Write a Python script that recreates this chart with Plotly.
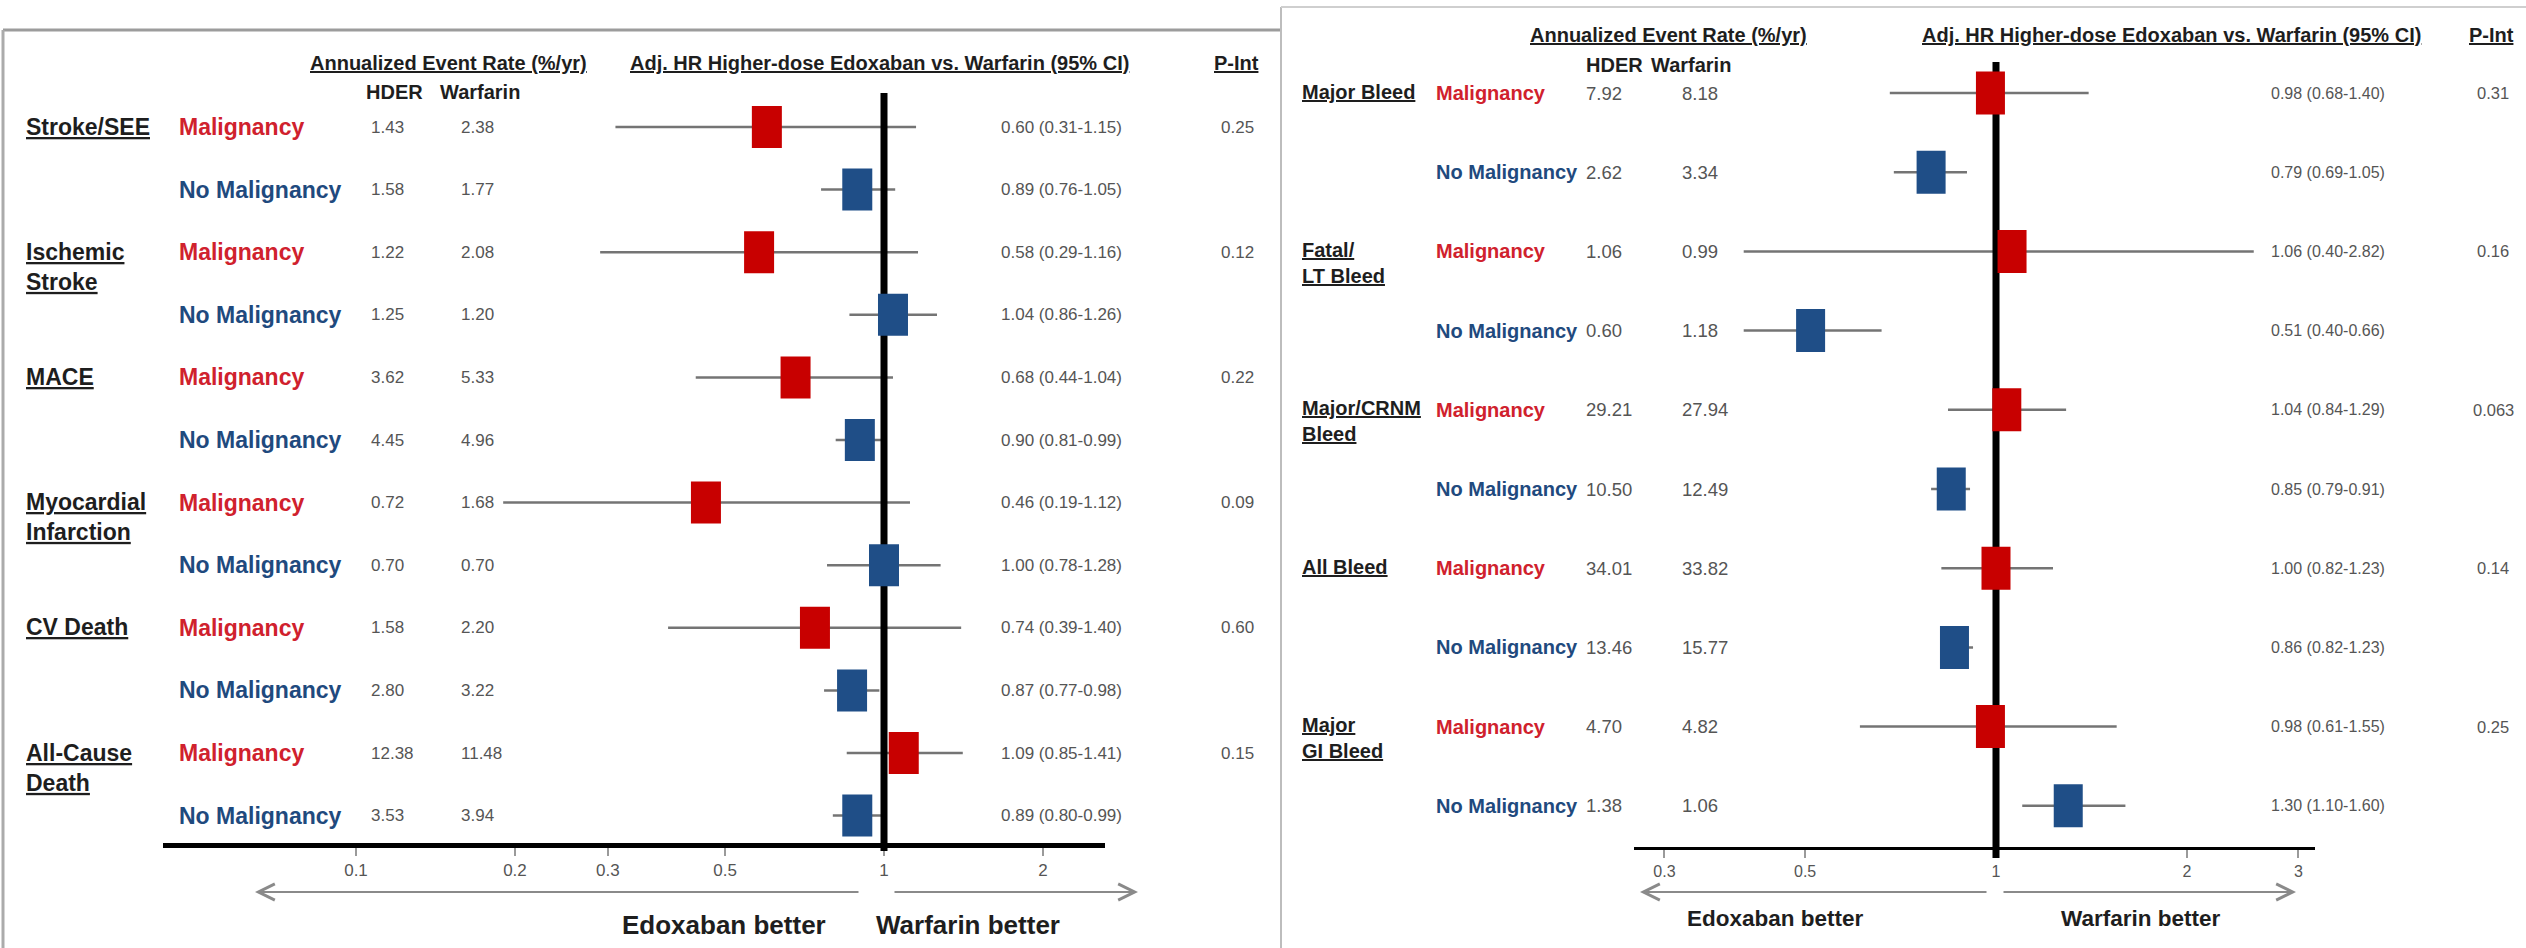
import math
import plotly.graph_objects as go

W, H = 2526, 948

# ---------------- Left panel (efficacy outcomes) ----------------
L_outcomes = ["Stroke/SEE", "Ischemic<br>Stroke", "MACE", "Myocardial<br>Infarction",
              "CV Death", "All-Cause<br>Death"]
subgroups = ["Malignancy", "No Malignancy"]
L_hder = [1.43, 1.58, 1.22, 1.25, 3.62, 4.45, 0.72, 0.70, 1.58, 2.80, 12.38, 3.53]
L_warf = [2.38, 1.77, 2.08, 1.20, 5.33, 4.96, 1.68, 0.70, 2.20, 3.22, 11.48, 3.94]
L_hr = [0.60, 0.89, 0.58, 1.04, 0.68, 0.90, 0.46, 1.00, 0.74, 0.87, 1.09, 0.89]
L_lo = [0.31, 0.76, 0.29, 0.86, 0.44, 0.81, 0.19, 0.78, 0.39, 0.77, 0.85, 0.80]
L_hi = [1.15, 1.05, 1.16, 1.26, 1.04, 0.99, 1.12, 1.28, 1.40, 0.98, 1.41, 0.99]
L_ci_text = ["0.60 (0.31-1.15)", "0.89 (0.76-1.05)", "0.58 (0.29-1.16)", "1.04 (0.86-1.26)",
             "0.68 (0.44-1.04)", "0.90 (0.81-0.99)", "0.46 (0.19-1.12)", "1.00 (0.78-1.28)",
             "0.74 (0.39-1.40)", "0.87 (0.77-0.98)", "1.09 (0.85-1.41)", "0.89 (0.80-0.99)"]
L_pint = ["0.25", "0.12", "0.22", "0.09", "0.60", "0.15"]
L_ticks = [0.1, 0.2, 0.3, 0.5, 1, 2]
L_ticklabels = ["0.1", "0.2", "0.3", "0.5", "1", "2"]

# ---------------- Right panel (bleeding outcomes) ----------------
R_outcomes = ["Major Bleed", "Fatal/<br>LT Bleed", "Major/CRNM<br>Bleed", "All Bleed", "Major<br>GI Bleed"]
R_hder = [7.92, 2.62, 1.06, 0.60, 29.21, 10.50, 34.01, 13.46, 4.70, 1.38]
R_warf = [8.18, 3.34, 0.99, 1.18, 27.94, 12.49, 33.82, 15.77, 4.82, 1.06]
R_hr = [0.98, 0.79, 1.06, 0.51, 1.04, 0.85, 1.00, 0.86, 0.98, 1.30]
R_lo = [0.68, 0.69, 0.40, 0.40, 0.84, 0.79, 0.82, 0.82, 0.61, 1.10]
R_hi = [1.40, 0.90, 2.55, 0.66, 1.29, 0.91, 1.23, 0.92, 1.55, 1.60]
R_ci_text = ["0.98 (0.68-1.40)", "0.79 (0.69-1.05)", "1.06 (0.40-2.82)", "0.51 (0.40-0.66)",
             "1.04 (0.84-1.29)", "0.85 (0.79-0.91)", "1.00 (0.82-1.23)", "0.86 (0.82-1.23)",
             "0.98 (0.61-1.55)", "1.30 (1.10-1.60)"]
R_pint = ["0.31", "0.16", "0.063", "0.14", "0.25"]
R_ticks = [0.3, 0.5, 1, 2, 3]
R_ticklabels = ["0.3", "0.5", "1", "2", "3"]

header_rate = "Annualized Event Rate (%/yr)"
header_hr = "Adj. HR Higher-dose Edoxaban vs. Warfarin (95% CI)"
header_p = "P-Int"
col_hder = "HDER"
col_warf = "Warfarin"
better_left = "Edoxaban better"
better_right = "Warfarin better"

# ---------------- styles ----------------
FONT = "Liberation Sans, Arial, Helvetica, sans-serif"
RED = "#C80000"
BLUE = "#1F4E87"
RED_TXT = "#D0212D"
BLUE_TXT = "#1F4A7E"
DARK = "#1E1E1E"
GREY_TXT = "#555555"
CI_COL = "#747474"

# panel geometry (pixels)
PANELS = {
    "L": dict(ax_x0=163, ax_x1=1105, x_at1=884, px_dec=528, ax_y=845, row0=127, dy=62.6,
              ref_top=93, ref_bot=851, ax_w=5, box_w=30, box_h=42,
              x_out=24, x_sub=177, x_hder=369, x_warf=459, x_ci=999, x_p=1237,
              fs_lab=23, fs_num=17, fs_ci=17, fs_p=17, fs_tick=17, out_line=31,
              hdr_y=63, sub_y=92, x_h_rate=308, x_h_hder=364, x_h_warf=438, x_h_hr=628, x_h_p=1212,
              arrow_y=892, arr_l=(255, 860), arr_r=(893, 1138), better_y=925,
              better_lx=724, better_rx=968, fs_better=26),
    "R": dict(ax_x0=1634, ax_x1=2315, x_at1=1996, px_dec=634, ax_y=848, row0=93, dy=79.2,
              ref_top=62, ref_bot=858, ax_w=3, box_w=29, box_h=43,
              x_out=1300, x_sub=1434, x_hder=1584, x_warf=1680, x_ci=2269, x_p=2493,
              fs_lab=20, fs_num=18.5, fs_ci=16, fs_p=16.5, fs_tick=16, out_line=29,
              hdr_y=35, sub_y=65, x_h_rate=1528, x_h_hder=1584, x_h_warf=1649, x_h_hr=1920, x_h_p=2467,
              arrow_y=892, arr_l=(1640, 1988), arr_r=(2002, 2296), better_y=918,
              better_lx=1775, better_rx=2140, fs_better=22.5),
}


def py(p):
    return 1 - p / H


def px(p):
    return p / W


fig = go.Figure()
annotations = []
shapes = []


def add_text(x, y, text, size, color, xanchor="left", yanchor="middle", yref="paper", yshift=0):
    annotations.append(dict(
        x=px(x), xref="paper", y=(py(y) if yref == "paper" else y), yref=yref,
        text=text, showarrow=False, xanchor=xanchor, yanchor=yanchor, yshift=yshift,
        font=dict(family=FONT, size=size, color=color), align="left"))


def build_panel(key, xname, yname, outcomes, hder, warf, hr, lo, hi, ci_text, pint, ticks, ticklabels):
    g = PANELS[key]
    lo_log = (g["ax_x0"] - g["x_at1"]) / g["px_dec"]
    hi_log = (g["ax_x1"] - g["x_at1"]) / g["px_dec"]
    y_top = (0 - g["row0"]) / g["dy"]
    y_bot = (H - g["row0"]) / g["dy"]
    xref = xname.replace("axis", "")
    yref = yname.replace("axis", "")

    fig.update_layout(**{
        xname: dict(type="log", domain=[px(g["ax_x0"]), px(g["ax_x1"])], range=[lo_log, hi_log],
                    anchor="free", position=py(g["ax_y"]), showline=True, linecolor="black",
                    linewidth=g["ax_w"], ticks="outside", ticklen=8, tickwidth=1.5, tickcolor="#9A9A9A",
                    tickvals=ticks, ticktext=ticklabels,
                    tickfont=dict(family=FONT, size=g["fs_tick"], color=GREY_TXT),
                    showgrid=False, zeroline=False, fixedrange=True),
        yname: dict(domain=[0, 1], range=[y_bot, y_top], visible=False, anchor=xref,
                    showgrid=False, zeroline=False, fixedrange=True),
    })

    rows = list(range(len(hr)))
    # confidence-interval lines
    xs, ys = [], []
    for i in rows:
        xs += [lo[i], hi[i], None]
        ys += [i, i, None]
    fig.add_trace(go.Scatter(x=xs, y=ys, mode="lines", line=dict(color=CI_COL, width=2.5),
                             xaxis=xref, yaxis=yref, hoverinfo="skip", showlegend=False))

    # reference line at HR = 1
    shapes.append(dict(type="line", xref=xref, yref="paper", x0=1, x1=1,
                       y0=py(g["ref_top"]), y1=py(g["ref_bot"]),
                       line=dict(color="black", width=7), layer="above"))
    # point-estimate boxes (fixed pixel size converted into axis units)
    fx = 10 ** ((g["box_w"] / 2) / g["px_dec"])
    hy = (g["box_h"] / 2) / g["dy"]
    for i in rows:
        col = RED if i % 2 == 0 else BLUE
        shapes.append(dict(type="rect", xref=xref, yref=yref,
                           x0=hr[i] / fx, x1=hr[i] * fx, y0=i - hy, y1=i + hy,
                           fillcolor=col, line=dict(width=0), layer="above"))

    # outcome labels
    for k, name in enumerate(outcomes):
        parts = name.split("<br>")
        txt = "<br>".join("<b><u>%s</u></b>" % p for p in parts)
        add_text(g["x_out"], 2 * k, txt, g["fs_lab"], DARK, yanchor="top", yref=yref,
                 yshift=g["out_line"] / 2)
    # subgroup labels and numbers
    for i in rows:
        sg = subgroups[i % 2]
        add_text(g["x_sub"], i, "<b>%s</b>" % sg, g["fs_lab"], RED_TXT if i % 2 == 0 else BLUE_TXT, yref=yref)
        add_text(g["x_hder"], i, "%.2f" % hder[i], g["fs_num"], GREY_TXT, yref=yref)
        add_text(g["x_warf"], i, "%.2f" % warf[i], g["fs_num"], GREY_TXT, yref=yref)
        add_text(g["x_ci"], i, ci_text[i], g["fs_ci"], GREY_TXT, yref=yref)
    for k, p in enumerate(pint):
        add_text(g["x_p"], 2 * k, p, g["fs_p"], GREY_TXT, xanchor="center", yref=yref)

    # headers
    add_text(g["x_h_rate"], g["hdr_y"], "<b><u>%s</u></b>" % header_rate, 20, DARK)
    add_text(g["x_h_hder"], g["sub_y"], "<b>%s</b>" % col_hder, 20, DARK)
    add_text(g["x_h_warf"], g["sub_y"], "<b>%s</b>" % col_warf, 20, DARK)
    add_text(g["x_h_hr"], g["hdr_y"], "<b><u>%s</u></b>" % header_hr, 20, DARK)
    add_text(g["x_h_p"], g["hdr_y"], "<b><u>%s</u></b>" % header_p, 20, DARK)

    # direction arrows
    head, tail = g["arr_l"]
    annotations.append(dict(x=px(head), y=py(g["arrow_y"]), xref="paper", yref="paper", text="",
                            showarrow=True, ax=tail - head, ay=0, arrowhead=5, arrowsize=1.6,
                            arrowwidth=2, arrowcolor="#8A8A8A"))
    tail, head = g["arr_r"]
    annotations.append(dict(x=px(head), y=py(g["arrow_y"]), xref="paper", yref="paper", text="",
                            showarrow=True, ax=tail - head, ay=0, arrowhead=5, arrowsize=1.6,
                            arrowwidth=2, arrowcolor="#8A8A8A"))
    add_text(g["better_lx"], g["better_y"], "<b>%s</b>" % better_left, g["fs_better"], DARK, xanchor="center")
    add_text(g["better_rx"], g["better_y"], "<b>%s</b>" % better_right, g["fs_better"], DARK, xanchor="center")


build_panel("L", "xaxis", "yaxis", L_outcomes, L_hder, L_warf, L_hr, L_lo, L_hi, L_ci_text, L_pint,
            L_ticks, L_ticklabels)
build_panel("R", "xaxis2", "yaxis2", R_outcomes, R_hder, R_warf, R_hr, R_lo, R_hi, R_ci_text, R_pint,
            R_ticks, R_ticklabels)

# panel frames
shapes += [
    dict(type="line", xref="paper", yref="paper", x0=px(3), x1=px(1281), y0=py(30), y1=py(30),
         line=dict(color="#9C9C9C", width=3)),
    dict(type="line", xref="paper", yref="paper", x0=px(3), x1=px(3), y0=py(30), y1=0,
         line=dict(color="#ABABAB", width=3)),
    dict(type="line", xref="paper", yref="paper", x0=px(1281), x1=px(1281), y0=py(7), y1=0,
         line=dict(color="#BDBDBD", width=2)),
    dict(type="line", xref="paper", yref="paper", x0=px(1281), x1=1, y0=py(7), y1=py(7),
         line=dict(color="#CFCFCF", width=2)),
]

fig.update_layout(width=W, height=H, autosize=False, margin=dict(l=0, r=0, t=0, b=0),
                  paper_bgcolor="white", plot_bgcolor="rgba(0,0,0,0)", showlegend=False,
                  font=dict(family=FONT), annotations=annotations, shapes=shapes)

fig.write_html("out.html", config={"displayModeBar": False},
               post_script="document.body.style.margin='0px';")
